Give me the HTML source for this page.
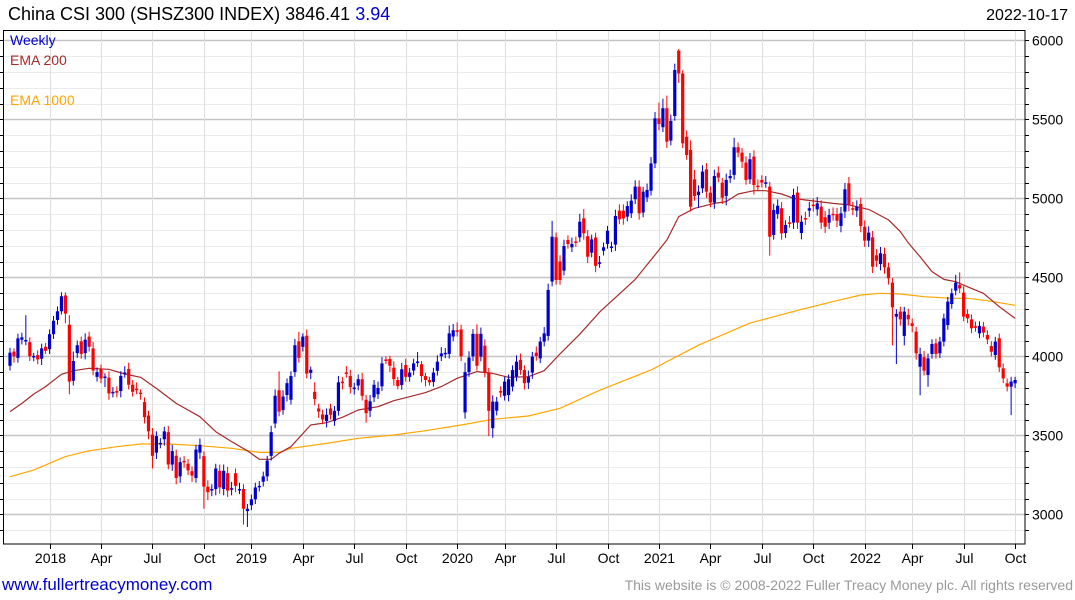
<!DOCTYPE html>
<html><head><meta charset="utf-8"><style>
html,body{margin:0;padding:0;background:#fff;}
svg{display:block;font-family:"Liberation Sans",sans-serif;}
</style></head><body>
<svg id="chart" width="1075" height="600" viewBox="0 0 1075 600" xmlns="http://www.w3.org/2000/svg">
<text x="8" y="20" font-size="18" fill="#000">China CSI 300 (SHSZ300 INDEX) 3846.41 <tspan fill="#0000cc">3.94</tspan></text>
<text x="1068" y="20" font-size="16" fill="#000" text-anchor="end">2022-10-17</text>
<g id="grid"></g>
<g id="axes"></g>
<g id="emas"></g>
<g id="candles"></g>
<rect x="3.5" y="30.5" width="1021.5" height="513.5" fill="none" stroke="#000" stroke-width="1"/>
<text x="10" y="45" font-size="14" fill="#0000cc">Weekly</text>
<text x="10" y="65" font-size="14" fill="#a52a2a">EMA 200</text>
<text x="10" y="105" font-size="14" fill="#ffa500">EMA 1000</text>
<text x="2" y="590" font-size="17" fill="#0000cc">www.fullertreacymoney.com</text>
<text x="1073" y="590" font-size="14" fill="#999" text-anchor="end">This website is © 2008-2022 Fuller Treacy Money plc. All rights reserved</text>
</svg>
<script>
const opens=[3940,4030,3990,4105,4100,4090,3998,4008,3985,4060,4045,4140,4230,4285,4385,4200,3845,4020,4095,4020,4125,4050,3870,3918,3865,3865,3770,3780,3780,3895,3920,3820,3795,3770,3710,3625,3505,3390,3448,3475,3520,3315,3370,3240,3338,3320,3273,3230,3390,3368,3175,3155,3160,3275,3160,3260,3160,3260,3158,3160,3020,3057,3095,3175,3206,3240,3370,3575,3785,3660,3755,3725,3900,4095,4060,4130,3895,3775,3670,3632,3590,3670,3590,3655,3840,3898,3875,3798,3815,3855,3725,3655,3740,3760,3810,3980,3983,3928,3850,3818,3945,3870,3910,3963,3950,3875,3850,3838,3908,4000,4018,4015,4125,4165,4170,3645,3900,4000,4142,3998,4067,3897,3545,3656,3780,3750,3755,3808,3872,3977,3913,3833,3897,4023,3987,4093,4129,4473,4753,4600,4542,4736,4690,4727,4753,4873,4760,4656,4752,4590,4668,4711,4690,4707,4922,4922,4884,4905,4994,5074,4910,5006,5048,5221,5506,5450,5570,5365,5521,5935,5790,5390,5306,5120,5020,5063,5183,5036,4973,5162,5099,5015,5127,5148,5323,5289,5226,5120,5264,5080,5116,5097,5074,4768,4900,4937,4780,4848,4846,5036,4780,4875,4922,4960,4930,4947,4880,4846,4902,4900,4825,4916,5095,4937,4922,4964,4820,4732,4753,4639,4584,4648,4563,4466,4251,4283,4129,4262,4209,4156,3934,3994,3882,4015,4082,4019,4093,4198,4331,4416,4451,4403,4268,4234,4190,4145,4188,4135,4065,4008,4114,3924,3829,3808,3829];
const closes=[4023,4000,4113,4120,4103,4000,4002,3980,4050,4035,4140,4225,4285,4380,4270,3840,3970,4070,4015,4105,4060,3910,3900,3860,3872,3765,3775,3770,3876,3897,3820,3775,3790,3765,3615,3525,3370,3495,3452,3525,3315,3400,3230,3330,3335,3278,3245,3410,3440,3175,3140,3160,3290,3170,3275,3150,3165,3180,3160,3035,3035,3095,3170,3180,3240,3340,3520,3750,3650,3745,3830,3875,4070,3990,4125,3890,3915,3730,3650,3600,3630,3630,3655,3835,3830,3895,3805,3802,3855,3750,3640,3715,3820,3800,3955,3972,3940,3855,3812,3918,3870,3897,3955,3967,3875,3850,3835,3897,3966,4018,4022,4145,4165,4155,4000,3900,3992,4142,3940,4142,3897,3655,3713,3713,3770,3840,3855,3913,3966,3913,3830,3870,3998,4002,4093,4145,4420,4757,4483,4483,4698,4711,4711,4723,4852,4778,4630,4740,4572,4595,4690,4795,4695,4888,4867,4873,4951,4985,5074,4905,5042,5053,5221,5506,5470,5570,5358,5490,5812,5790,5348,5274,4947,5015,5042,5169,5042,4973,5141,5131,5004,5116,5141,5323,5289,5232,5116,5247,5084,5076,5099,5101,4757,4926,4953,4778,4831,4844,5021,4846,4852,4871,4937,4956,4968,4846,4820,4894,4898,4858,4905,5057,4958,4933,4947,4825,4732,4783,4567,4605,4652,4563,4494,4310,4268,4234,4283,4234,4192,4019,4015,3909,3987,4078,4015,4093,4240,4346,4399,4466,4430,4251,4240,4177,4186,4192,4150,4107,4029,4093,3930,3860,3808,3840,3850];
const wickHi=[30,20,30,30,157,30,20,30,30,25,30,30,30,25,20,60,60,30,30,40,30,40,30,30,20,40,30,30,30,40,40,30,40,20,30,30,40,30,30,30,40,40,40,30,30,30,30,30,40,30,40,30,30,40,40,40,40,30,40,30,30,30,30,30,30,30,40,40,120,40,30,30,40,60,20,40,20,60,30,30,40,30,30,40,30,40,40,30,30,40,30,40,30,40,40,20,20,40,20,40,40,30,30,60,20,20,20,30,40,40,30,50,40,50,30,60,40,30,60,40,40,30,40,30,30,30,30,30,40,40,30,40,30,40,30,40,40,100,30,40,40,30,40,30,50,60,40,30,30,40,30,30,30,40,40,40,30,40,40,40,30,40,40,40,100,60,80,40,40,10,20,40,60,60,40,40,40,40,40,40,30,40,40,60,30,30,40,40,40,40,30,40,30,40,40,40,30,40,40,40,40,40,40,40,40,40,40,40,40,40,40,40,40,40,40,40,40,40,40,40,40,40,30,30,30,30,30,40,30,30,40,40,30,30,30,30,30,30,30,50,80,40,30,30,30,30,30,30,30,30,30,30,30,30,20];
const wickLo=[30,40,30,30,30,30,30,30,40,20,30,30,30,20,60,80,30,30,30,40,30,30,30,30,60,40,30,30,40,30,30,30,30,40,40,50,80,40,30,40,30,40,40,40,40,30,40,30,40,140,50,40,40,40,40,40,40,40,30,100,100,30,30,30,30,30,30,30,30,30,40,30,30,30,30,30,40,40,40,30,40,30,30,30,40,30,40,40,30,30,60,40,30,30,30,20,40,40,20,30,30,30,30,30,40,40,20,30,30,30,30,30,30,30,30,40,30,30,30,30,30,160,60,30,30,30,40,30,30,30,40,40,40,30,30,30,30,30,30,30,30,30,30,30,30,40,40,30,40,30,30,30,30,40,30,40,30,30,30,40,30,30,30,30,40,30,40,30,30,60,30,30,30,30,80,30,40,30,40,30,40,60,30,30,30,40,30,30,60,30,30,30,120,30,30,40,30,30,40,40,40,40,40,40,40,40,40,40,40,40,40,40,40,40,40,40,40,40,40,40,40,40,40,240,300,40,60,40,40,40,180,30,75,30,30,30,30,30,30,30,30,30,30,30,30,30,30,30,30,30,30,30,30,180,30];
const ema200Weeks=[0,3,6,9,13,16,20,25,29,33,37,42,48,52,56,60,63,66,68,71,76,80,84,88,93,97,101,105,109,113,118,122,126,131,135,139,144,149,158,162,166,169,173,178,181,184,188,191,195,198,201,208,212,217,222,225,227,230,233,236,239,242,246,250,254];
const ema200Vals=[3650,3702,3761,3808,3886,3909,3924,3918,3888,3867,3797,3702,3618,3523,3460,3402,3348,3348,3386,3428,3565,3580,3614,3660,3681,3719,3744,3770,3808,3861,3903,3892,3867,3871,3909,4015,4140,4280,4487,4610,4736,4884,4937,4968,4979,5027,5048,5048,5027,5000,4989,4968,4958,4930,4863,4789,4719,4630,4536,4487,4472,4440,4399,4314,4240];
const ema1000Weeks=[0,6,10,14,20,27,33,40,48,56,63,68,71,80,88,97,105,114,122,131,139,149,162,174,187,200,208,215,220,225,231,238,242,247,254];
const ema1000Vals=[3238,3280,3323,3365,3402,3428,3445,3445,3434,3418,3392,3392,3418,3449,3481,3502,3529,3565,3601,3622,3671,3785,3913,4070,4210,4297,4346,4388,4399,4394,4377,4367,4367,4352,4323];
const yTicks=[3000,3500,4000,4500,5000,5500,6000];
const xTickLabels=["2018","Apr","Jul","Oct","2019","Apr","Jul","Oct","2020","Apr","Jul","Oct","2021","Apr","Jul","Oct","2022","Apr","Jul","Oct"];
const xTickWeeks=[10,23,36,49,61,74,87,100,113,125,138,151,164,177,190,203,216,228,241,254];

const NS="http://www.w3.org/2000/svg";
const X0=10, DX=3.957;
function xs(i){return X0+i*DX;}
function ys(v){return 356.3-(v-4000)*0.158;}
function mk(tag,attrs,parent){const e=document.createElementNS(NS,tag);for(const k in attrs)e.setAttribute(k,attrs[k]);parent.appendChild(e);return e;}
const grid=document.getElementById('grid'),axes=document.getElementById('axes'),emas=document.getElementById('emas'),cg=document.getElementById('candles');
for(let v=2900;v<=6000;v+=100){
  const y=Math.round(ys(v))+0.5;
  const major=v%500===0;
  const l=mk('line',{x1:4,x2:1025,y1:y,y2:y,stroke:major?'#c4c4c4':'#ebebeb','stroke-width':major?1.5:1},grid);
  
  
  const t=mk('line',{x1:1025,x2:1029,y1:y,y2:y,stroke:'#000'},axes);
  
  
  const t2=mk('line',{x1:0,x2:4,y1:y,y2:y,stroke:'#000'},axes);
  
  
}
yTicks.forEach(v=>{
  const t=mk('text',{x:1032,y:ys(v)+5,'font-size':14,fill:'#000'},axes);
  t.textContent=v;
  
  
});
xTickLabels.forEach((lab,k)=>{
  const x=Math.round(xs(xTickWeeks[k]))+0.5;
  const g=mk('line',{x1:x,x2:x,y1:31,y2:544,stroke:'#dedede'},grid);
  
  
  const t=mk('line',{x1:x,x2:x,y1:544,y2:549,stroke:'#000'},axes);
  
  
  const tx=mk('text',{x:x,y:563,'font-size':14,fill:'#000','text-anchor':'middle'},axes);
  tx.textContent=lab;
  
  
});
function emaPath(weeks,vals,color,name){
  let d='';
  weeks.forEach((w,k)=>{d+=(k?'L':'M')+xs(w).toFixed(1)+' '+ys(vals[k]).toFixed(1);});
  const p=mk('path',{d:d,fill:'none',stroke:color,'stroke-width':1.2,'stroke-linejoin':'round'},emas);
  
  
}
emaPath(ema1000Weeks,ema1000Vals,'#ffa500','ema-1000-line');
emaPath(ema200Weeks,ema200Vals,'#a52a2a','ema-200-line');
closes.forEach((c,i)=>{
  const o=opens[i];
  const up=c>=o;
  const col=up?'#0000cc':'#ff0000';
  const x=xs(i);
  const top=Math.max(o,c), bot=Math.min(o,c);
  const w=mk('line',{x1:x,x2:x,y1:ys(top+wickHi[i]),y2:ys(bot-wickLo[i]),stroke:col,'stroke-width':1},cg);
  
  
  const h=Math.max(1.5,ys(bot)-ys(top));
  const r=mk('rect',{x:x-1.6,y:ys(top),width:3.2,height:h,fill:col},cg);
  
  
});
</script>
</body></html>
